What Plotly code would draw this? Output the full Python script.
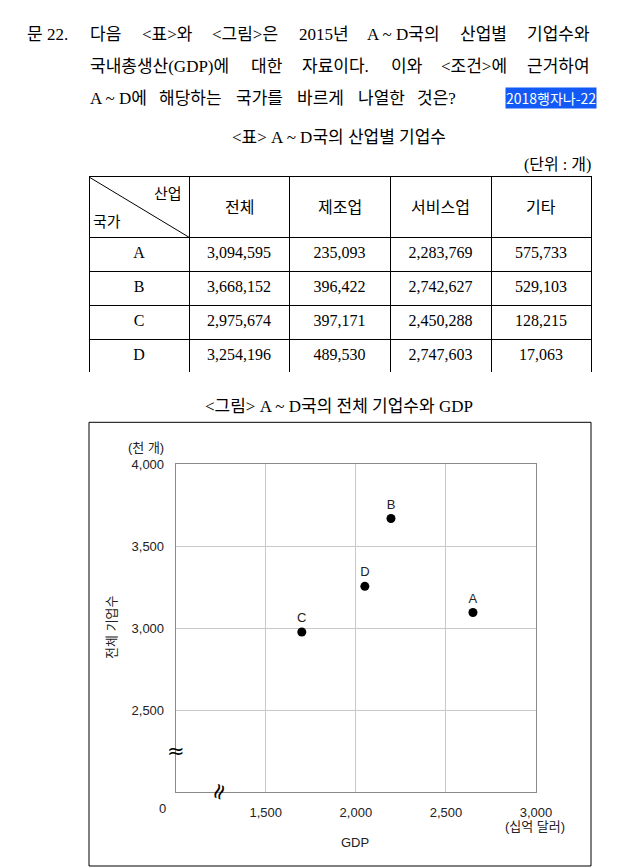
import plotly.graph_objects as go

# ---------------- data ----------------
countries = ["A", "B", "C", "D"]
industries = ["전체", "제조업", "서비스업", "기타"]
total_firms = [3094595, 3668152, 2975674, 3254196]
manufacturing = [235093, 396422, 397171, 489530]
services = [2283769, 2742627, 2450288, 2747603]
others = [575733, 529103, 128215, 17063]

gdp = [2650, 2195, 1700, 2050]          # 십억 달러
firms_thousand = [v / 1000 for v in total_firms]   # 천 개

x_ticks = [1500, 2000, 2500, 3000]
x_ticktext = ["1,500", "2,000", "2,500", "3,000"]
y_ticks = [2500, 3000, 3500, 4000]
y_ticktext = ["2,500", "3,000", "3,500", "4,000"]

# ---------------- helpers ----------------
LAYOUT_W, H = 640, 868
REF_W = 624
KY = 0.9915            # vertical compensation of the viewer
SERIF = "Liberation Serif, Noto Sans CJK KR"
SANS = "Liberation Sans, Noto Sans CJK KR"


def px(x):
    return x / REF_W


def py(y):
    return 1 - (H - (H - y) / KY) / H


def est_width(s, size):
    w = 0.0
    for ch in s:
        if '\uac00' <= ch <= '\ud7a3':
            w += 1.0
        elif ch in "0123456789":
            w += 0.5
        elif ch in "<>":
            w += 0.564
        elif ch == "~":
            w += 0.541
        elif ch in "ADG":
            w += 0.722
        elif ch == "P":
            w += 0.556
        elif ch in "()":
            w += 0.333
        elif ch in ". ":
            w += 0.25
        else:
            w += 0.5
    return w * size


annotations = []


def text(x, y, s, size, family=SERIF, xanchor="center", color="black", **kw):
    annotations.append(dict(x=px(x), y=py(y), xref="paper", yref="paper", text=s,
                            showarrow=False, xanchor=xanchor, yanchor="middle",
                            font=dict(family=family, size=size, color=color), **kw))


def justified(words, x0, x1, y, size):
    widths = [est_width(w, size) * REF_W / LAYOUT_W for w in words]
    gap = (x1 - x0 - sum(widths)) / (len(words) - 1)
    x = x0
    for i, (w, wd) in enumerate(zip(words, widths)):
        if i == len(words) - 1:
            text(x1, y, w, size, xanchor="right")
        else:
            text(x, y, w, size, xanchor="left")
        x += wd + gap


# ---------------- question text ----------------
QS = 17
text(25, 35, "문 22.", QS, xanchor="left")
justified(["다음", "<표>와", "<그림>은", "2015년", "A ~ D국의", "산업별", "기업수와"], 88, 592, 35, QS)
justified(["국내총생산(GDP)에", "대한", "자료이다.", "이와", "<조건>에", "근거하여"], 88, 592, 67, QS)
justified(["A ~ D에", "해당하는", "국가를", "바르게", "나열한", "것은?"], 88, 458, 99, QS)
text(597, 98, "2018행자나-22", 14, family="Noto Sans CJK KR", xanchor="right", color="white",
     bgcolor="#1259f5", borderpad=0)

# ---------------- table ----------------
text(339, 138, "<표> A ~ D국의 산업별 기업수", QS)
text(593, 165, "(단위 : 개)", 16, xanchor="right")
text(184, 194, "산업", 15, xanchor="right")
text(91, 222, "국가", 15, xanchor="left")

col_w = [100, 100, 101, 101, 100]
tbl_x0, tbl_x1 = 89, 591.5
tbl_top, hdr_h, row_h = 177.3, 60.4, 33.7
fmt = lambda arr: [f"{v:,}" for v in arr]
table = go.Table(
    domain=dict(x=[px(tbl_x0), px(tbl_x1)], y=[py(tbl_top + hdr_h + 4 * row_h), py(tbl_top)]),
    columnwidth=col_w,
    header=dict(values=[""] * 5, height=hdr_h / KY, align="center",
                line=dict(color="black", width=1), fill=dict(color="white"),
                font=dict(family=SERIF, size=15, color="black")),
    cells=dict(values=[countries, fmt(total_firms), fmt(manufacturing), fmt(services), fmt(others)],
               height=row_h / KY, align="center",
               line=dict(color="black", width=1), fill=dict(color="white"),
               font=dict(family=SERIF, size=16, color="black")),
)
scale = (tbl_x1 - tbl_x0) / sum(col_w)
edge = tbl_x0 + col_w[0] * scale
for name, w in zip(industries, col_w[1:]):
    text(edge + w * scale / 2, tbl_top + hdr_h / 2, name, 16)
    edge += w * scale

# ---------------- scatter ----------------
scatter = go.Scatter(
    x=gdp, y=firms_thousand, mode="markers+text", text=countries,
    textposition="top center", cliponaxis=False,
    marker=dict(size=9, color="black"),
    textfont=dict(family=SANS, size=13, color="#222"),
    xaxis="x", yaxis="y", showlegend=False, hoverinfo="skip",
)

fig = go.Figure([table, scatter])

text(339, 407, "<그림> A ~ D국의 전체 기업수와 GDP", QS)
text(146, 448, "(천 개)", 13, family=SANS, color="#222")
text(112, 628, "전체 기업수", 13, family=SANS, color="#222", textangle=-90)
text(355, 843, "GDP", 13, family=SANS, color="#222")
text(535, 827, "(십억 달러)", 13, family=SANS, color="#222")
text(162, 809, "0", 13, family=SANS, color="#222")
text(176, 751, "≈", 21, family="DejaVu Sans", color="black")
text(219, 792, "≈", 22, family="DejaVu Sans", color="black", textangle=-70)

shapes = [
    dict(type="rect", xref="paper", yref="paper", x0=px(89), x1=px(591), y0=py(866), y1=py(422.5),
         line=dict(color="black", width=1)),
    dict(type="line", xref="paper", yref="paper", x0=px(89), y0=py(177.3), x1=px(189.3), y1=py(237.7),
         line=dict(color="black", width=1)),
]

fig.update_layout(
    width=LAYOUT_W, height=H, margin=dict(l=0, r=0, t=0, b=0),
    paper_bgcolor="white", plot_bgcolor="white",
    annotations=annotations, shapes=shapes,
    xaxis=dict(domain=[px(175.7), px(536)], range=[1000, 3000], tickvals=x_ticks, ticktext=x_ticktext,
               showgrid=True, gridcolor="#c8c8c8", gridwidth=1, showline=True, linecolor="#8a8a8a",
               mirror=True, zeroline=False, ticks="", ticklabelstandoff=8,
               tickfont=dict(family=SANS, size=13, color="#222"), fixedrange=True),
    yaxis=dict(domain=[py(792), py(464.3)], range=[2000, 4000], tickvals=y_ticks, ticktext=y_ticktext,
               showgrid=True, gridcolor="#c8c8c8", gridwidth=1, showline=True, linecolor="#8a8a8a",
               mirror=True, zeroline=False, ticks="", ticklabelstandoff=8,
               tickfont=dict(family=SANS, size=13, color="#222"), fixedrange=True),
)

fig.write_html("out.html", config={"responsive": False, "displayModeBar": False})
